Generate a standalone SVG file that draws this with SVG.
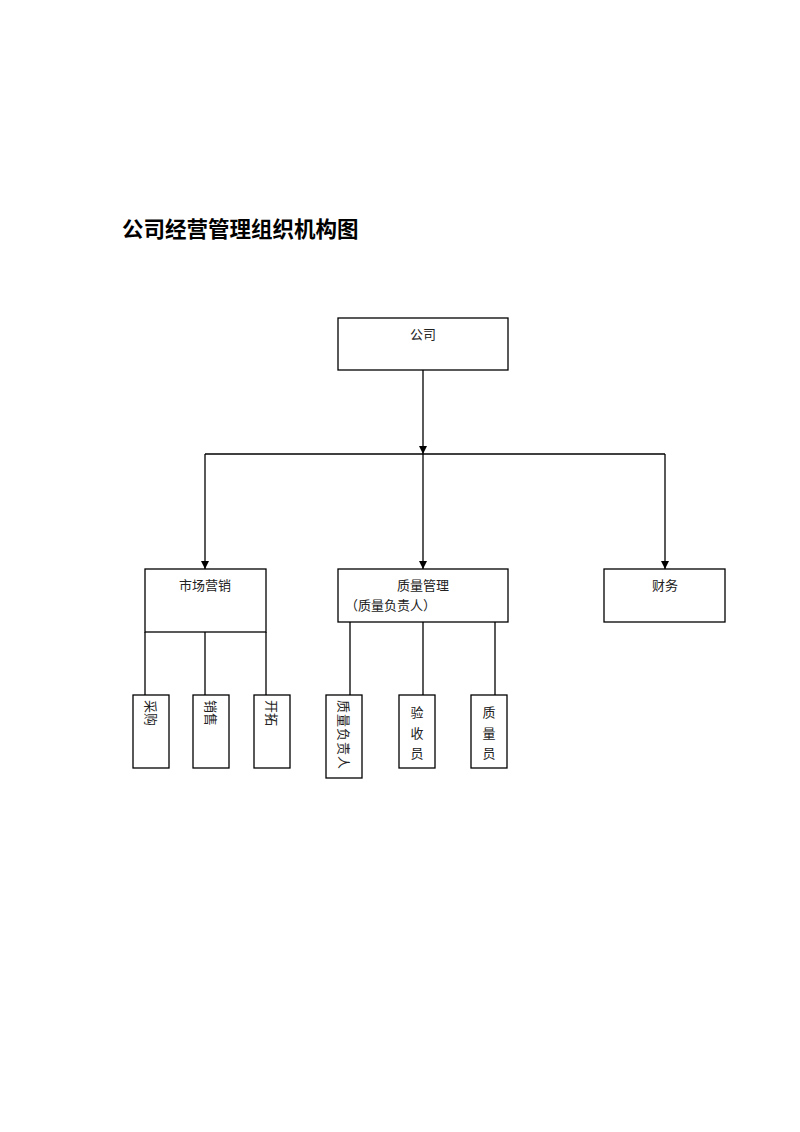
<svg xmlns="http://www.w3.org/2000/svg" width="800" height="1132" viewBox="0 0 800 1132">
<style>
.box{fill:#fff;stroke:#000;stroke-width:1.3}
.ln{fill:none;stroke:#000;stroke-width:1.3}
.t{font-family:"Liberation Serif","Noto Sans CJK SC",serif;font-size:13px;fill:#222}
.title{font-family:"Liberation Sans","Noto Sans CJK SC",sans-serif;font-size:21.5px;font-weight:bold;fill:#000}
</style>
<defs>
<marker id="arr" viewBox="0 0 10 10" refX="10" refY="5" markerWidth="8" markerHeight="8" markerUnits="userSpaceOnUse" orient="auto">
<path d="M0,0 L10,5 L0,10 z" fill="#000"/>
</marker>
</defs>
<rect width="800" height="1132" fill="#fff"/>
<text class="title" x="122" y="237">公司经营管理组织机构图</text>

<g id="connectors">
<line class="ln" x1="423" y1="370" x2="423" y2="454" marker-end="url(#arr)"/>
<line class="ln" x1="205" y1="454" x2="665" y2="454"/>
<line class="ln" x1="205" y1="454" x2="205" y2="569" marker-end="url(#arr)"/>
<line class="ln" x1="423" y1="454" x2="423" y2="569" marker-end="url(#arr)"/>
<line class="ln" x1="665" y1="454" x2="665" y2="569" marker-end="url(#arr)"/>
<line class="ln" x1="145" y1="632" x2="145" y2="695"/>
<line class="ln" x1="205" y1="632" x2="205" y2="695"/>
<line class="ln" x1="266" y1="632" x2="266" y2="695"/>
<line class="ln" x1="350" y1="622" x2="350" y2="695"/>
<line class="ln" x1="423" y1="622" x2="423" y2="695"/>
<line class="ln" x1="495" y1="622" x2="495" y2="695"/>
</g>

<g id="company">
<rect class="box" x="338" y="318" width="170" height="52"/>
<text class="t" x="423" y="339" text-anchor="middle">公司</text>
</g>
<g id="marketing">
<rect class="box" x="145" y="569" width="121" height="63"/>
<text class="t" x="205" y="590" text-anchor="middle">市场营销</text>
</g>
<g id="quality">
<rect class="box" x="338" y="569" width="170" height="53"/>
<text class="t" x="423" y="590" text-anchor="middle">质量管理</text>
<text class="t" x="345" y="610">（质量负责人）</text>
</g>
<g id="finance">
<rect class="box" x="604" y="569" width="121" height="53"/>
<text class="t" x="665" y="590" text-anchor="middle">财务</text>
</g>

<g id="purchase">
<rect class="box" x="133" y="695" width="36" height="73"/>
<text class="t" transform="translate(146,700) rotate(90)">采购</text>
</g>
<g id="sales">
<rect class="box" x="193" y="695" width="36" height="73"/>
<text class="t" transform="translate(206,700) rotate(90)">销售</text>
</g>
<g id="expand">
<rect class="box" x="254" y="695" width="36" height="73"/>
<text class="t" transform="translate(267,700) rotate(90)">开拓</text>
</g>
<g id="qmanager">
<rect class="box" x="326" y="695" width="36" height="83"/>
<text class="t" transform="translate(339,700) rotate(90)" letter-spacing="1">质量负责人</text>
</g>
<g id="inspector">
<rect class="box" x="399" y="695" width="36" height="73"/>
<text class="t" x="417" y="717" text-anchor="middle" font-size="12">验</text>
<text class="t" x="417" y="738" text-anchor="middle" font-size="12">收</text>
<text class="t" x="417" y="758" text-anchor="middle" font-size="12">员</text>
</g>
<g id="qstaff">
<rect class="box" x="471" y="695" width="36" height="73"/>
<text class="t" x="489" y="717" text-anchor="middle" font-size="12">质</text>
<text class="t" x="489" y="738" text-anchor="middle" font-size="12">量</text>
<text class="t" x="489" y="758" text-anchor="middle" font-size="12">员</text>
</g>
</svg>
